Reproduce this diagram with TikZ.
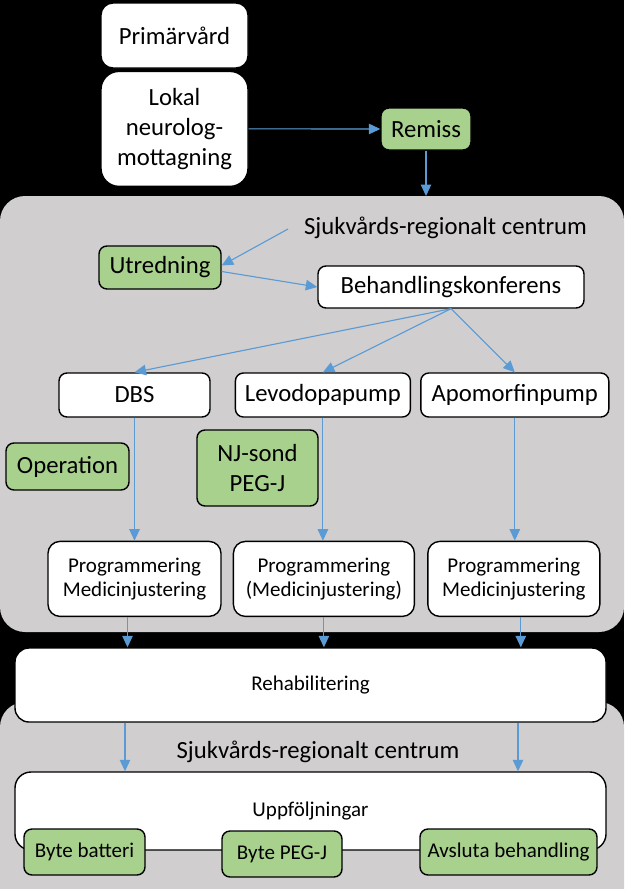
\documentclass[tikz,border=0pt]{standalone}
\usepackage{fontspec}
\setmainfont{Carlito}
\usetikzlibrary{arrows.meta, positioning, calc}
\definecolor{flowblue}{HTML}{5B9BD5}
\definecolor{stepgreen}{HTML}{A9D18E}
\definecolor{panelgray}{HTML}{D0CECE}
\newcommand{\bigtext}{\fontsize{24.7}{30}\selectfont}
\newcommand{\smalltext}{\fontsize{21}{24.5}\selectfont}
\tikzset{
x=1pt, y=-1pt,
>={Triangle[length=11.5pt,width=10.5pt]},
flow/.style={->, draw=flowblue, fill=flowblue, line width=1.1pt},
box/.style={%
    rectangle,
    rounded corners=8pt,
    draw=black,
    line width=1.4pt,
    fill=white,
    inner sep=0pt,
    align=center,
    % Font
    font=\bigtext
},
note/.style={box, fill=stepgreen},
panel/.style={fill=panelgray, rounded corners=25pt},
}

\begin{document}
\begin{tikzpicture}
\clip (0,0) rectangle (624,889);
\fill[black] (0,0) rectangle (624,889);
% regional centre
\fill[panel] (0,196) rectangle (624,632);
\fill[panel] (0,702) rectangle (624,940);

\node[box, minimum width=147pt, minimum height=65pt, rounded corners=12pt] (prim) at (174.5,35.5) {Primärvård};
\node[box, minimum width=147pt, minimum height=115pt, rounded corners=18pt, below=2pt of prim] (lokal) {Lokal\\neurolog-\\mottagning};
\node[note, minimum width=90pt, minimum height=42pt] (remiss) at (426,129) {Remiss};
\coordinate (entry) at (426,196);

\node[font=\bigtext] (region) at (445.5,228) {Sjukvårds-regionalt centrum};
\coordinate (regtail) at (288,229);
\node[note, minimum width=122pt, minimum height=43pt] (utred) at (160,267.5) {Utredning};
\node[box, minimum width=266pt, minimum height=42pt] (konf) at (451,287) {Behandlingskonferens};

% treatments
\node[box, minimum width=151pt, minimum height=44pt] (dbs) at (134.5,395) {DBS};
\node[box, minimum width=175pt, minimum height=44pt, right=24pt of dbs] (levo) {Levodopapump};
\node[box, minimum width=188pt, minimum height=44pt, right=9pt of levo] (apo) {Apomorfinpump};
\node[note, minimum width=123pt, minimum height=47pt] (oper) at (67.5,466.5) {Operation};
\node[note, minimum width=121pt, minimum height=76pt] (sond) at (257.5,468) {NJ-sond\\PEG-J};

\node[box, font=\smalltext, minimum width=173pt, minimum height=75pt, rounded corners=12pt, below=123pt of dbs] (prog1) {Programmering\\Medicinjustering};
\node[box, font=\smalltext, minimum width=181pt, minimum height=75pt, rounded corners=12pt, right=11pt of prog1] (prog2) {Programmering\\(Medicinjustering)};
\node[box, font=\smalltext, minimum width=172pt, minimum height=75pt, rounded corners=12pt, right=12pt of prog2] (prog3) {Programmering\\Medicinjustering};

\node[box, font=\smalltext, minimum width=591pt, minimum height=74pt, rounded corners=14pt] (rehab) at (310.5,685) {Rehabilitering};

% follow-up
\node[font=\bigtext] (region2) at (318,752) {Sjukvårds-regionalt centrum};
\node[box, font=\smalltext, minimum width=591pt, minimum height=78pt, rounded corners=16pt] (uppf) at (310.5,811) {Uppföljningar};
\node[note, font=\smalltext, minimum width=121pt, minimum height=46pt] (batteri) at (84.5,852) {Byte batteri};
\node[note, font=\smalltext, minimum width=120pt, minimum height=46pt] (bytepeg) at (282,854) {Byte PEG-J};
\node[note, font=\smalltext, minimum width=177pt, minimum height=46pt] (avsluta) at (508.5,852) {Avsluta behandling};

\draw[flow] (lokal.east) -- (remiss.west);
\draw[flow] (remiss.south) -- (entry);
\draw[flow] (regtail) -- ([yshift=2pt]utred.east);
\draw[flow] ([yshift=-4pt]utred.east) -- (konf.west);
\foreach \t in {dbs,levo,apo}
    \draw[flow] (konf.south) -- (\t.north);
\draw[flow] (dbs.south) -- (prog1.north);
\draw[flow] (levo.south) -- (levo.south |- prog2.north);
\draw[flow] (apo.south) -- (apo.south |- prog3.north);
\foreach \p/\s in {prog1/-7, prog2/0, prog3/7}
    \draw[flow] ([xshift=\s pt]\p.south) -- ([xshift=\s pt]\p.south |- rehab.north);
\foreach \s in {-185.5, 207.5}
    \draw[flow] ([xshift=\s pt]rehab.south) -- ([xshift=\s pt]rehab.south |- uppf.north);
\end{tikzpicture}
\end{document}
